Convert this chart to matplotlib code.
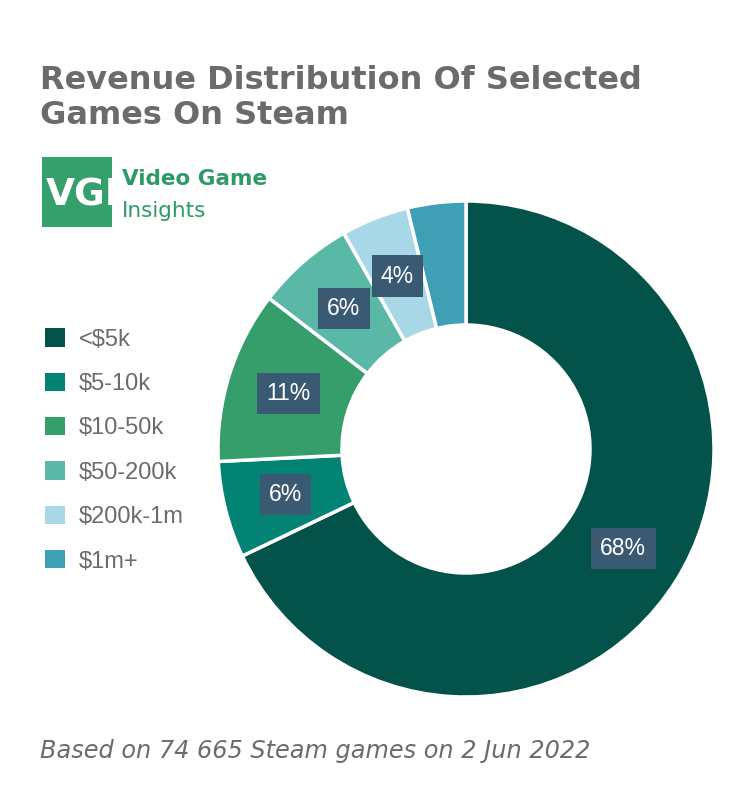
import numpy as np
import matplotlib.pyplot as plt
from matplotlib.patches import Rectangle

# revenue buckets and share of games (%)
categories = ['<$5k', '$5-10k', '$10-50k', '$50-200k', '$200k-1m', '$1m+']
shares = [67.9, 6.3, 11.2, 6.4, 4.4, 3.8]
colors = ['#03534a', '#038373', '#369e6b', '#59b9a6', '#a8d8e8', '#3f9fb5']

GRAY = '#6b6b6b'
GREEN = '#2e9a67'
BOX = '#3a5a74'

fig = plt.figure(figsize=(7.38, 8), dpi=100)

# donut
ax = fig.add_axes([(466 - 248) / 738, (800 - 449 - 248) / 800, 496 / 738, 496 / 800])
wedges, _ = ax.pie(shares, colors=colors, startangle=90, counterclock=False,
                   radius=1, wedgeprops=dict(width=0.5, edgecolor='white', linewidth=2.5))
ax.set_xlim(-1, 1)
ax.set_ylim(-1, 1)
ax.set_aspect('equal')
ax.axis('off')

# percentage labels in the middle of the ring (smallest slice left unlabelled)
for w, s in zip(wedges, shares):
    if s < 4:
        continue
    ang = np.deg2rad((w.theta1 + w.theta2) / 2)
    r = 0.75
    ax.text(r * np.cos(ang), r * np.sin(ang), f'{round(s)}%', ha='center', va='center',
            color='white', fontsize=16.5, family='Liberation Sans',
            bbox=dict(boxstyle='square,pad=0.4', fc=BOX, ec='none'))

# title
fig.text(40 / 738, 1 - 98 / 800, 'Revenue Distribution Of Selected\nGames On Steam',
         ha='left', va='center', fontsize=23, fontweight='bold', color=GRAY,
         linespacing=1.15)

# logo
fig.patches.append(Rectangle((42 / 738, 1 - 227 / 800), 70 / 738, 70 / 800,
                             transform=fig.transFigure, fc='#35a06c', ec='none'))
logo = fig.text(46 / 738, 1 - 196 / 800, 'VGI', ha='left', va='center', fontsize=27,
                fontweight='bold', color='white')
logo.set_clip_path(fig.patches[-1])
fig.text(122 / 738, 1 - 179 / 800, 'Video Game', ha='left', va='center', fontsize=15.5,
         fontweight='bold', color=GREEN)
fig.text(122 / 738, 1 - 211 / 800, 'Insights', ha='left', va='center', fontsize=15.5,
         color=GREEN)

# legend
leg = fig.legend(wedges, categories, loc='upper left', bbox_to_anchor=(36 / 738, 1 - 319 / 800),
                 frameon=False, handlelength=0.82, handleheight=0.82, handletextpad=0.6,
                 labelspacing=0.93, prop=dict(family='Liberation Sans', size=17),
                 labelcolor=GRAY, borderaxespad=0)
for h in leg.legend_handles:
    h.set_edgecolor('none')

# footer
fig.text(40 / 738, 1 - 751 / 800, 'Based on 74 665 Steam games on 2 Jun 2022',
         ha='left', va='center', fontsize=17.3, style='italic', color=GRAY)

fig.savefig('out.png', dpi=100, facecolor='white')
